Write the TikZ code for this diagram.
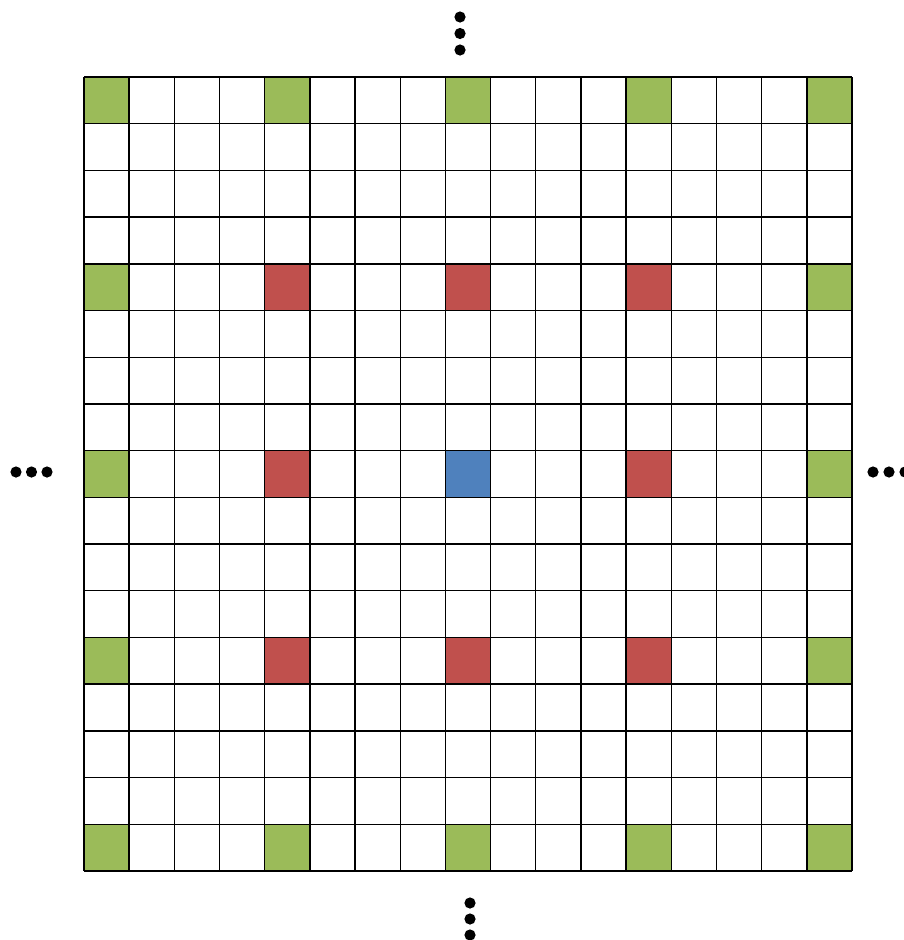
\documentclass[tikz,border=0pt]{standalone}
\definecolor{cgreen}{HTML}{9BBB59}
\definecolor{cred}{HTML}{C0504D}
\definecolor{cblue}{HTML}{4F81BD}
\tikzset{
  cellfill/.style={draw=none},
  gridline/.style={line width=1.4pt, black},
  dotmark/.style={fill=black, draw=none}
}
\begin{document}
\begin{tikzpicture}[x=1pt,y=-1pt]
\useasboundingbox (0,0) rectangle (904,940);
\clip (0,0) rectangle (904,940);
\pgfmathsetmacro{\cw}{768/17}
\pgfmathsetmacro{\ch}{794/17}
% green cells
\foreach \c/\r in {0/0,4/0,8/0,12/0,16/0, 0/4,16/4, 0/8,16/8, 0/12,16/12, 0/16,4/16,8/16,12/16,16/16}{
  \fill[cgreen] ({84+\c*\cw},{77+\r*\ch}) rectangle ++(\cw,\ch);
}
% red cells
\foreach \c/\r in {4/4,8/4,12/4, 4/8,12/8, 4/12,8/12,12/12}{
  \fill[cred] ({84+\c*\cw},{77+\r*\ch}) rectangle ++(\cw,\ch);
}
% blue center
\fill[cblue] ({84+8*\cw},{77+8*\ch}) rectangle ++(\cw,\ch);
% grid lines
\foreach \i in {0,...,17}{
  \draw[gridline] ({84+\i*\cw},77) -- ({84+\i*\cw},871);
  \draw[gridline] (84,{77+\i*\ch}) -- (852,{77+\i*\ch});
}
% ellipsis dots
\foreach \y in {17,33.5,50}{ \fill[dotmark] (460,\y) circle (5.6); }
\foreach \y in {903,919,935}{ \fill[dotmark] (470,\y) circle (5.6); }
\foreach \x in {16,31.5,47}{ \fill[dotmark] (\x,472) circle (5.6); }
\foreach \x in {873,889,905}{ \fill[dotmark] (\x,472) circle (5.6); }
\end{tikzpicture}
\end{document}
